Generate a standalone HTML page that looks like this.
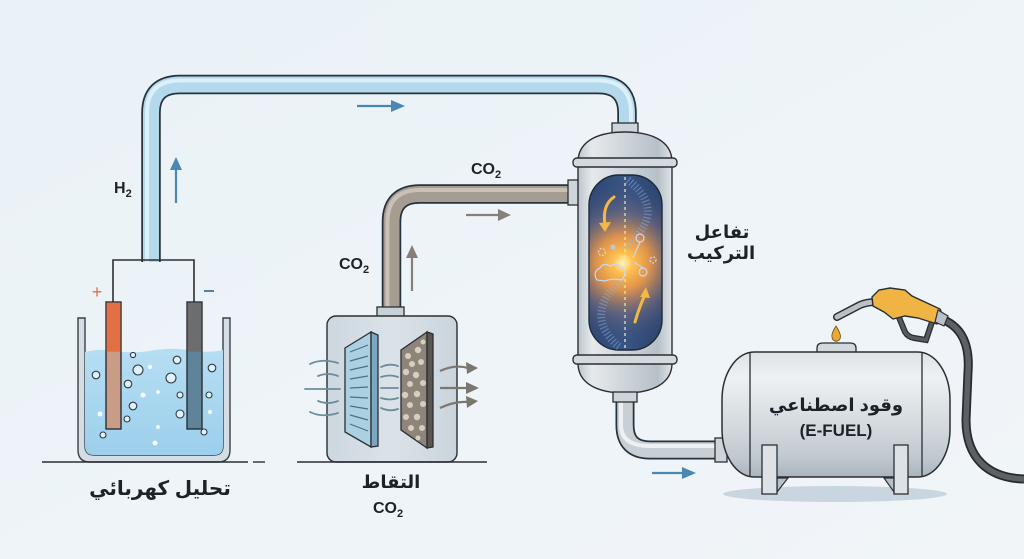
<!DOCTYPE html>
<html><head><meta charset="utf-8"><style>
html,body{margin:0;padding:0;background:#edf3f7;}
svg{display:block;}
.t{font-family:"Liberation Sans","DejaVu Sans",sans-serif;font-weight:bold;fill:#1c2228;}
</style></head><body>
<svg width="1024" height="559" viewBox="0 0 1024 559" xmlns="http://www.w3.org/2000/svg">
<defs>
<linearGradient id="bg" x1="0" y1="0" x2="1" y2="1"><stop offset="0" stop-color="#eaf2f7"/><stop offset="1" stop-color="#f1f5f8"/></linearGradient>
<linearGradient id="liq" x1="0" y1="0" x2="0" y2="1"><stop offset="0" stop-color="#b6def3"/><stop offset="1" stop-color="#9ccfec"/></linearGradient>
<linearGradient id="metal" x1="0" y1="0" x2="1" y2="0"><stop offset="0" stop-color="#bcc5cd"/><stop offset="0.15" stop-color="#e6eaed"/><stop offset="0.5" stop-color="#cdd4da"/><stop offset="0.85" stop-color="#b7c0c8"/><stop offset="1" stop-color="#dfe4e8"/></linearGradient>
<linearGradient id="tank" x1="0" y1="0" x2="0" y2="1"><stop offset="0" stop-color="#dde2e6"/><stop offset="0.2" stop-color="#eef1f3"/><stop offset="0.6" stop-color="#d3d9de"/><stop offset="0.85" stop-color="#c0c8cf"/><stop offset="1" stop-color="#aab4bd"/></linearGradient>
<linearGradient id="box" x1="0" y1="0" x2="1" y2="0"><stop offset="0" stop-color="#cdd7df"/><stop offset="0.5" stop-color="#dbe3e9"/><stop offset="1" stop-color="#cad4dc"/></linearGradient>
<radialGradient id="glow" gradientUnits="userSpaceOnUse" cx="623" cy="263" r="85">
<stop offset="0" stop-color="#fff6c0"/><stop offset="0.12" stop-color="#ffc04d"/><stop offset="0.32" stop-color="#f09a48" stop-opacity="0.9"/><stop offset="0.62" stop-color="#7a6e80" stop-opacity="0.5"/><stop offset="1" stop-color="#2d4878" stop-opacity="0"/></radialGradient>
<linearGradient id="win" x1="0" y1="0" x2="1" y2="0"><stop offset="0" stop-color="#2c4674"/><stop offset="0.5" stop-color="#3a5583"/><stop offset="1" stop-color="#2a4370"/></linearGradient>
</defs>
<rect width="1024" height="559" fill="url(#bg)"/>

<!-- H2 pipe -->
<path d="M151 262 V113 Q151 84.5 180 84.5 H598 Q627 84.5 627 113 V126" fill="none" stroke="#26323c" stroke-width="19.5"/>
<path d="M151 262 V113 Q151 84.5 180 84.5 H598 Q627 84.5 627 113 V126" fill="none" stroke="#b5d9ec" stroke-width="16"/>
<path d="M147 262 V113 Q147 80.5 180 80.5 H598 Q631 80.5 631 113 V126" fill="none" stroke="#dcf0fa" stroke-width="4"/>

<!-- CO2 pipe -->
<path d="M391.5 309 V222 Q391.5 194 420 194 H571" fill="none" stroke="#26323c" stroke-width="19.5"/>
<path d="M391.5 309 V222 Q391.5 194 420 194 H571" fill="none" stroke="#a69d92" stroke-width="16"/>
<path d="M387.5 309 V222 Q387.5 190 420 190 H571" fill="none" stroke="#c9c1b6" stroke-width="4"/>

<!-- outlet pipe -->
<path d="M625 400 V425 Q625 450 650 450 H717" fill="none" stroke="#26323c" stroke-width="19"/>
<path d="M625 400 V425 Q625 450 650 450 H717" fill="none" stroke="#c8cfd5" stroke-width="15.5"/>
<path d="M621 400 V425 Q621 446 650 446 H717" fill="none" stroke="#eef1f3" stroke-width="4"/>

<!-- flow arrows -->
<g stroke="#4a88b3" fill="#4a88b3" stroke-width="2.2">
<line x1="176" y1="203" x2="176" y2="168"/><polygon points="170,170 176,157 182,170" stroke="none"/>
<line x1="357" y1="106" x2="393" y2="106"/><polygon points="391,100 405,106 391,112" stroke="none"/>
<line x1="652" y1="473" x2="684" y2="473"/><polygon points="682,467 696,473 682,479" stroke="none"/>
</g>
<g stroke="#878078" fill="#878078" stroke-width="2.2">
<line x1="412" y1="291" x2="412" y2="256"/><polygon points="406,258 412,245 418,258" stroke="none"/>
<line x1="466" y1="215" x2="500" y2="215"/><polygon points="498,209 511,215 498,221" stroke="none"/>
</g>

<!-- labels -->
<text class="t" x="114" y="193" font-size="16">H<tspan font-size="11" dy="4">2</tspan></text>
<text class="t" x="471" y="174" font-size="16">CO<tspan font-size="11" dy="4">2</tspan></text>
<text class="t" x="339" y="269" font-size="16">CO<tspan font-size="11" dy="4">2</tspan></text>

<!-- Electrolysis -->
<path d="M113 302 V260 H194 V302" fill="none" stroke="#2b2f33" stroke-width="1.6"/>
<text x="97" y="298" font-family="Liberation Sans,sans-serif" font-size="18" fill="#e07148" text-anchor="middle">+</text>
<line x1="204" y1="291" x2="214" y2="291" stroke="#5a7f99" stroke-width="2"/>
<path d="M78 318 V450 Q78 462 90 462 H218 Q230 462 230 450 V318 H223 V446 Q223 455 214 455 H94 Q85 455 85 446 V318 Z" fill="#d4dde4" stroke="#3a4046" stroke-width="1.4"/>
<path d="M85 352 Q100 348 115 351 Q135 354 155 350 Q175 347 195 351 Q210 353 223 350 V446 Q223 455 214 455 H94 Q85 455 85 446 Z" fill="url(#liq)"/>
<rect x="106" y="302" width="15" height="127" fill="#c99c88" stroke="#2b2f33" stroke-width="1.4"/>
<rect x="106.7" y="302.7" width="13.6" height="49" fill="#e36f45"/>
<rect x="187" y="302" width="15" height="127" fill="#5f8499" stroke="#2b2f33" stroke-width="1.4"/>
<rect x="187.7" y="302.7" width="13.6" height="49" fill="#6d6d6d"/>
<g fill="#dff2fb" stroke="#2f3a42" stroke-width="1.1">
<circle cx="133" cy="355" r="2.6"/><circle cx="138" cy="370" r="5"/><circle cx="96" cy="375" r="3.8"/><circle cx="128" cy="384" r="3.8"/>
<circle cx="133" cy="406" r="3.8"/><circle cx="127" cy="419" r="3"/><circle cx="103" cy="435" r="3"/><circle cx="177" cy="360" r="3.8"/>
<circle cx="171" cy="378" r="5"/><circle cx="180" cy="395" r="3"/><circle cx="180" cy="414" r="4"/><circle cx="212" cy="368" r="3.8"/>
<circle cx="209" cy="395" r="3"/><circle cx="204" cy="432" r="3"/>
</g>
<g fill="#f4fbff">
<circle cx="150" cy="367" r="2.2"/><circle cx="143" cy="395" r="2.5"/><circle cx="158" cy="392" r="2"/><circle cx="100" cy="414" r="2.5"/>
<circle cx="158" cy="427" r="2"/><circle cx="155" cy="443" r="2.5"/><circle cx="210" cy="412" r="2.2"/>
</g>
<line x1="42" y1="462" x2="248" y2="462" stroke="#2b2f33" stroke-width="1.4"/>
<line x1="253" y1="462" x2="265" y2="462" stroke="#2b2f33" stroke-width="1.4"/>
<text class="t" x="160" y="495" font-size="20" text-anchor="middle">تحليل كهربائي</text>

<!-- CO2 capture -->
<rect x="377" y="307" width="27" height="10" fill="#c9d1d8" stroke="#2b2f33" stroke-width="1.3"/>
<rect x="327" y="316" width="130" height="146" rx="9" fill="url(#box)" stroke="#2b2f33" stroke-width="1.4"/>
<line x1="297" y1="462" x2="487" y2="462" stroke="#2b2f33" stroke-width="1.4"/>
<g fill="none" stroke="#6d8c9b" stroke-width="1.8" stroke-linecap="round">
<path d="M310 364 Q322 358 338 363"/><path d="M318 376 Q328 372 338 376"/><path d="M305 389 H340"/>
<path d="M318 401 Q328 405 338 401"/><path d="M310 412 Q322 418 338 413"/>
<path d="M381 367 Q390 363 398 366"/><path d="M381 377 Q390 374 398 377"/><path d="M381 388 H398"/>
<path d="M381 398 Q390 401 398 398"/><path d="M381 408 Q390 412 398 409"/>
</g>
<polygon points="345,348 371,332 371,447 345,432" fill="#abd0e1" stroke="#2b2f33" stroke-width="1.3"/>
<polygon points="371,332 378,335 378,446 371,447" fill="#7aa6c2" stroke="#2b2f33" stroke-width="1.3"/>
<g stroke="#4e6f84" stroke-width="1.2">
<line x1="350" y1="352" x2="368" y2="345"/><line x1="350" y1="361" x2="368" y2="356"/><line x1="350" y1="370" x2="368" y2="366"/>
<line x1="350" y1="379" x2="368" y2="376"/><line x1="350" y1="388" x2="368" y2="387"/><line x1="350" y1="397" x2="368" y2="398"/>
<line x1="350" y1="406" x2="368" y2="409"/><line x1="350" y1="415" x2="368" y2="420"/><line x1="350" y1="424" x2="368" y2="431"/>
</g>
<polygon points="401,350 427,332 427,448 401,430" fill="#8e847a" stroke="#2b2f33" stroke-width="1.3"/>
<polygon points="427,332 433,334 433,447 427,448" fill="#5b5650" stroke="#2b2f33" stroke-width="1.3"/>
<g fill="#d8cebf">
<circle cx="408" cy="356" r="3"/><circle cx="418" cy="350" r="3.2"/><circle cx="412" cy="364" r="3"/><circle cx="421" cy="362" r="3"/>
<circle cx="406" cy="372" r="3.2"/><circle cx="416" cy="375" r="3.2"/><circle cx="423" cy="383" r="3"/><circle cx="410" cy="384" r="3"/>
<circle cx="405" cy="395" r="3.2"/><circle cx="417" cy="394" r="3.2"/><circle cx="423" cy="404" r="3"/><circle cx="410" cy="405" r="3"/>
<circle cx="406" cy="417" r="3"/><circle cx="417" cy="417" r="3.2"/><circle cx="422" cy="428" r="3"/><circle cx="411" cy="428" r="3"/>
<circle cx="423" cy="342" r="2.5"/><circle cx="418" cy="438" r="2.5"/>
</g>
<g fill="none" stroke="#7b7670" stroke-width="2.2">
<path d="M440 371 Q455 364 468 368"/><path d="M440 388 H468"/><path d="M440 408 Q455 401 468 402"/>
</g>
<g fill="#7b7670">
<polygon points="466,362 478,368 467,374"/><polygon points="466,382 479,388 466,394"/><polygon points="466,396 478,401 467,408"/>
</g>
<text class="t" x="391" y="488" font-size="18" text-anchor="middle">التقاط</text>
<text class="t" x="373" y="513" font-size="16">CO<tspan font-size="11" dy="4">2</tspan></text>

<!-- Reactor -->
<rect x="568" y="180" width="11" height="25" fill="#cdd4da" stroke="#2b2f33" stroke-width="1.3"/>
<rect x="612" y="123" width="26" height="10" fill="#cdd4da" stroke="#2b2f33" stroke-width="1.3"/>
<path d="M578 162 C578 140 600 132 625 132 C650 132 672 140 672 162 Z" fill="url(#metal)" stroke="#2b2f33" stroke-width="1.4"/>
<rect x="578" y="166" width="94" height="191" fill="url(#metal)" stroke="#2b2f33" stroke-width="1.4"/>
<path d="M578 363 C578 385 600 393 625 393 C650 393 672 385 672 363 Z" fill="url(#metal)" stroke="#2b2f33" stroke-width="1.4"/>
<rect x="613" y="392" width="24" height="10" fill="#cdd4da" stroke="#2b2f33" stroke-width="1.3"/>
<rect x="573" y="158" width="104" height="9" rx="4" fill="#d3d9de" stroke="#2b2f33" stroke-width="1.4"/>
<rect x="573" y="355" width="104" height="9" rx="4" fill="#d3d9de" stroke="#2b2f33" stroke-width="1.4"/>
<rect x="589" y="175" width="73" height="175" rx="30" fill="url(#win)" stroke="#1e2a36" stroke-width="1.4"/>
<rect x="589.7" y="175.7" width="71.6" height="173.6" rx="29" fill="url(#glow)"/>
<g fill="none" stroke="#86bdf0" stroke-width="8" stroke-dasharray="1.2 2.2" opacity="0.45">
<path d="M628 180 Q660 205 640 232 Q628 245 630 250"/>
<path d="M622 280 Q592 305 605 330 Q612 342 620 347"/>
</g>
<line x1="625" y1="177" x2="625" y2="348" stroke="#e9e7a6" stroke-width="1.3" stroke-dasharray="3 3"/>
<g fill="none" stroke="#f3b845" stroke-width="3" stroke-linecap="round">
<path d="M614 197 Q602 205 605 225"/><path d="M635 322 Q640 305 645 295"/>
</g>
<polygon points="599,223 605,232 611,222" fill="#f3b845"/>
<polygon points="640,297 646,287 650,298" fill="#f3b845"/>
<g fill="none" stroke="#c9d8f2" stroke-width="1.2">
<circle cx="640" cy="238" r="4"/><circle cx="643" cy="272" r="4"/>
<line x1="640" y1="242" x2="633" y2="258"/><line x1="643" y1="268" x2="634" y2="262"/>
<circle cx="602" cy="252" r="3.5" stroke-dasharray="2 1.5"/><circle cx="653" cy="260" r="3" stroke-dasharray="2 1.5"/>
<path d="M597 280 Q592 272 600 268 Q603 262 610 266 Q617 262 621 268 Q628 272 622 280 Q612 278 605 281 Z"/>
</g>
<circle cx="613" cy="247" r="2.5" fill="#a8d4ff" opacity="0.8"/>
<text class="t" x="722" y="238" font-size="18" text-anchor="middle">تفاعل</text>
<text class="t" x="721" y="259" font-size="18" text-anchor="middle">التركيب</text>

<!-- Tank -->
<ellipse cx="835" cy="494" rx="112" ry="8" fill="#c9d5df"/>
<rect x="715" y="438" width="12" height="24" fill="#cdd4da" stroke="#2b2f33" stroke-width="1.3"/>
<path d="M817 355 V348 Q817 343 823 343 H850 Q856 343 856 348 V355 Z" fill="#d1d8de" stroke="#2b2f33" stroke-width="1.3"/>
<rect x="722" y="352" width="228" height="125" rx="32" ry="48" fill="url(#tank)" stroke="#2b2f33" stroke-width="1.5"/>
<line x1="750" y1="352" x2="750" y2="477" stroke="#2b2f33" stroke-width="1.3"/>
<line x1="922" y1="352" x2="922" y2="477" stroke="#2b2f33" stroke-width="1.3"/>
<polygon points="777,492 777,478 788,478" fill="#b7c0c7" stroke="#2b2f33" stroke-width="1.2"/>
<polygon points="894,492 894,478 884,478" fill="#b7c0c7" stroke="#2b2f33" stroke-width="1.2"/>
<rect x="762" y="445" width="15" height="49" fill="#dde2e6" stroke="#2b2f33" stroke-width="1.3"/>
<rect x="894" y="445" width="14" height="49" fill="#dde2e6" stroke="#2b2f33" stroke-width="1.3"/>
<text class="t" x="836" y="411" font-size="18" text-anchor="middle">وقود اصطناعي</text>
<text class="t" x="836" y="436" font-size="17" text-anchor="middle">(E-FUEL)</text>

<!-- hose & nozzle -->
<path d="M944 320 C962 328 970 345 968 372 L966 420 C966 458 988 478 1024 479" fill="none" stroke="#262a2e" stroke-width="9"/>
<path d="M944 320 C962 328 970 345 968 372 L966 420 C966 458 988 478 1024 479" fill="none" stroke="#5c6166" stroke-width="5.5"/>
<path d="M837 317 L860 305 Q867 302 876 302" fill="none" stroke="#2b2f33" stroke-width="8" stroke-linecap="round"/>
<path d="M837 317 L860 305 Q867 302 876 302" fill="none" stroke="#b9c0c6" stroke-width="5" stroke-linecap="round"/>
<path d="M898 315 L905 332 Q908 337 914 338 L926 340 L932 322" fill="none" stroke="#2b2f33" stroke-width="6"/>
<path d="M898 315 L905 332 Q908 337 914 338 L926 340 L932 322" fill="none" stroke="#555b61" stroke-width="3.5"/>
<polygon points="872,297 879,290 890,288 905,290 912,296 940,309 944,318 937,324 918,318 905,316 893,319 884,312 873,306" fill="#efb444" stroke="#2b2f33" stroke-width="1.4"/>
<polygon points="938,310 948,316 944,326 935,322" fill="#b9c0c6" stroke="#2b2f33" stroke-width="1.2"/>
<path d="M836 326 Q831 334 832 337 A4.2 4.2 0 0 0 840.4 337 Q841 334 836 326 Z" fill="#e8a93a" stroke="#6b4a10" stroke-width="0.8"/>
</svg>
</body></html>
